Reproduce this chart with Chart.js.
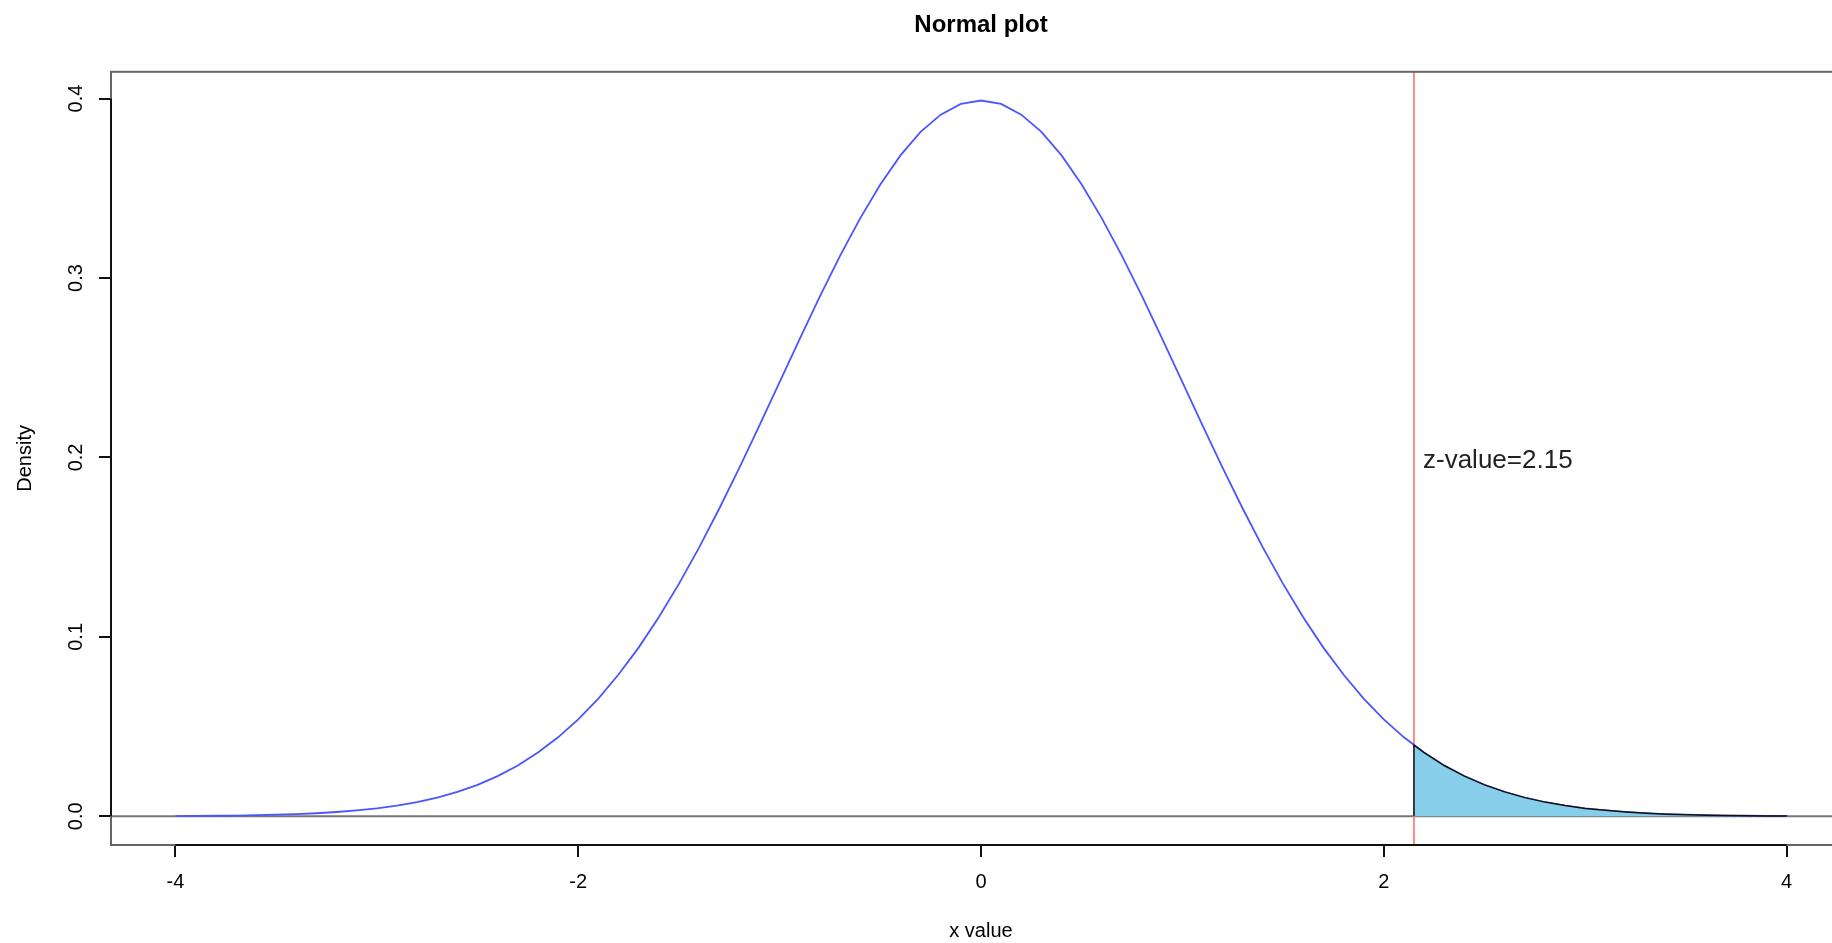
<!DOCTYPE html>
<html>
<head>
<meta charset="utf-8">
<title>Normal plot</title>
<script src="https://cdn.jsdelivr.net/npm/chart.js@4"></script>
<style>
    html, body { margin: 0; padding: 0; overflow: hidden; background: #fff; }
    #grafica { position: absolute; left: 0; top: 0; }
</style>
</head>
<body>
<canvas id="grafica" width="1962" height="943"></canvas>
<script>
    // curva normal
    const xValores = [-4.0, -3.9, -3.8, -3.7, -3.6, -3.5, -3.4, -3.3, -3.2, -3.1,
        -3.0, -2.9, -2.8, -2.7, -2.6, -2.5, -2.4, -2.3, -2.2, -2.1,
        -2.0, -1.9, -1.8, -1.7, -1.6, -1.5, -1.4, -1.3, -1.2, -1.1,
        -1.0, -0.9, -0.8, -0.7, -0.6, -0.5, -0.4, -0.3, -0.2, -0.1,
        0.0, 0.1, 0.2, 0.3, 0.4, 0.5, 0.6, 0.7, 0.8, 0.9,
        1.0, 1.1, 1.2, 1.3, 1.4, 1.5, 1.6, 1.7, 1.8, 1.9,
        2.0, 2.1, 2.2, 2.3, 2.4, 2.5, 2.6, 2.7, 2.8, 2.9,
        3.0, 3.1, 3.2, 3.3, 3.4, 3.5, 3.6, 3.7, 3.8, 3.9, 4.0];
    const densidad = [0.0001, 0.0002, 0.0003, 0.0004, 0.0006, 0.0009, 0.0012, 0.0017, 0.0024, 0.0033,
        0.0044, 0.0060, 0.0079, 0.0104, 0.0136, 0.0175, 0.0224, 0.0283, 0.0355, 0.0440,
        0.0540, 0.0656, 0.0790, 0.0940, 0.1109, 0.1295, 0.1497, 0.1714, 0.1942, 0.2179,
        0.2420, 0.2661, 0.2897, 0.3123, 0.3332, 0.3521, 0.3683, 0.3814, 0.3910, 0.3970,
        0.3989, 0.3970, 0.3910, 0.3814, 0.3683, 0.3521, 0.3332, 0.3123, 0.2897, 0.2661,
        0.2420, 0.2179, 0.1942, 0.1714, 0.1497, 0.1295, 0.1109, 0.0940, 0.0790, 0.0656,
        0.0540, 0.0440, 0.0355, 0.0283, 0.0224, 0.0175, 0.0136, 0.0104, 0.0079, 0.0060,
        0.0044, 0.0033, 0.0024, 0.0017, 0.0012, 0.0009, 0.0006, 0.0004, 0.0003, 0.0002, 0.0001];

    // area sombreada a la derecha de z
    const colaX = [2.15, 2.15, 2.2, 2.3, 2.4, 2.5, 2.6, 2.7, 2.8, 2.9, 3.0,
        3.1, 3.2, 3.3, 3.4, 3.5, 3.6, 3.7, 3.8, 3.9, 4.0, 4.0];
    const colaY = [0, 0.0396, 0.0355, 0.0283, 0.0224, 0.0175, 0.0136, 0.0104, 0.0079, 0.0060, 0.0044,
        0.0033, 0.0024, 0.0017, 0.0012, 0.0009, 0.0006, 0.0004, 0.0003, 0.0002, 0.0001, 0];

    const zValor = 2.15;
    const etiquetaZ = "z-value=2.15";
    const ticksX = [-4, -2, 0, 2, 4];
    const etiquetasX = ["-4", "-2", "0", "2", "4"];
    const ticksY = [0, 0.1, 0.2, 0.3, 0.4];
    const etiquetasY = ["0.0", "0.1", "0.2", "0.3", "0.4"];

    const fuente = "'Liberation Sans', Arial, Helvetica, sans-serif";

    const puntosCurva = xValores.map((x, i) => ({ x: x, y: densidad[i] }));
    const puntosCola = colaX.map((x, i) => ({ x: x, y: colaY[i] }));

    // caja, ejes estilo R, lineas de referencia y texto
    const estiloR = {
        id: "estiloR",
        beforeDatasetsDraw(chart) {
            const ctx = chart.ctx;
            const a = chart.chartArea;
            const sx = chart.scales.x;
            const sy = chart.scales.y;
            ctx.save();
            // linea horizontal en 0
            const y0 = sy.getPixelForValue(0);
            ctx.strokeStyle = "#777";
            ctx.lineWidth = 2;
            ctx.beginPath();
            ctx.moveTo(a.left, y0);
            ctx.lineTo(a.right, y0);
            ctx.stroke();
            // linea vertical del valor z
            const xz = sx.getPixelForValue(zValor);
            ctx.strokeStyle = "#ff8a8a";
            ctx.lineWidth = 2;
            ctx.beginPath();
            ctx.moveTo(xz, a.top);
            ctx.lineTo(xz, a.bottom);
            ctx.stroke();
            ctx.restore();
        },
        afterDatasetsDraw(chart) {
            const ctx = chart.ctx;
            const a = chart.chartArea;
            const sx = chart.scales.x;
            const sy = chart.scales.y;
            ctx.save();
            // caja
            ctx.strokeStyle = "#666";
            ctx.lineWidth = 2;
            ctx.strokeRect(a.left, a.top, a.right - a.left, a.bottom - a.top);
            // lineas de los ejes
            ctx.strokeStyle = "#111";
            ctx.beginPath();
            ctx.moveTo(sx.getPixelForValue(ticksX[0]), a.bottom);
            ctx.lineTo(sx.getPixelForValue(ticksX[ticksX.length - 1]), a.bottom);
            ctx.moveTo(a.left, sy.getPixelForValue(ticksY[0]));
            ctx.lineTo(a.left, sy.getPixelForValue(ticksY[ticksY.length - 1]));
            ctx.stroke();
            // etiquetas del eje y (giradas)
            ctx.fillStyle = "#000";
            ctx.font = "20px " + fuente;
            ctx.textAlign = "center";
            ctx.textBaseline = "middle";
            ticksY.forEach((v, i) => {
                ctx.save();
                ctx.translate(76, sy.getPixelForValue(v));
                ctx.rotate(-Math.PI / 2);
                ctx.fillText(etiquetasY[i], 0, 0);
                ctx.restore();
            });
            // texto del valor z
            ctx.fillStyle = "#222";
            ctx.font = "26px " + fuente;
            ctx.textAlign = "left";
            ctx.fillText(etiquetaZ, sx.getPixelForValue(zValor) + 9, sy.getPixelForValue(0.2) + 3);
            ctx.restore();
        }
    };

    const $grafica = document.querySelector("#grafica");
    new Chart($grafica, {
        type: "line",
        data: {
            datasets: [
                {
                    data: puntosCola,
                    borderColor: "#111",
                    borderWidth: 1.5,
                    backgroundColor: "#87CEEB",
                    fill: "origin",
                    pointRadius: 0,
                    tension: 0
                },
                {
                    data: puntosCurva,
                    borderColor: "#4a56ff",
                    borderWidth: 1.8,
                    fill: false,
                    pointRadius: 0,
                    tension: 0
                }
            ]
        },
        options: {
            responsive: false,
            animation: false,
            events: [],
            devicePixelRatio: 1,
            layout: { padding: { left: 0, right: 111, top: 0, bottom: 0 } },
            plugins: {
                legend: { display: false },
                tooltip: { enabled: false },
                title: {
                    display: true,
                    text: "Normal plot",
                    fullSize: false,
                    color: "#000",
                    font: { family: fuente, size: 24, weight: "bold" },
                    padding: { top: 11, bottom: 32 }
                }
            },
            scales: {
                x: {
                    type: "linear",
                    min: -4.32,
                    max: 4.32,
                    afterBuildTicks: (s) => { s.ticks = ticksX.map(v => ({ value: v })); },
                    afterFit: (s) => { s.height = 98; },
                    grid: { drawOnChartArea: false, drawTicks: true, tickLength: 12, color: "#111", lineWidth: 2 },
                    border: { display: false },
                    ticks: {
                        color: "#000",
                        padding: 13,
                        maxRotation: 0,
                        font: { family: fuente, size: 20 },
                        callback: (v) => etiquetasX[ticksX.indexOf(v)]
                    },
                    title: {
                        display: true,
                        text: "x value",
                        color: "#000",
                        font: { family: fuente, size: 20 },
                        padding: { top: 0, bottom: 0 }
                    }
                },
                y: {
                    type: "linear",
                    min: -0.016,
                    max: 0.4149,
                    afterBuildTicks: (s) => { s.ticks = ticksY.map(v => ({ value: v })); },
                    afterFit: (s) => { s.width = 111; },
                    grid: { drawOnChartArea: false, drawTicks: true, tickLength: 12, color: "#111", lineWidth: 2 },
                    border: { display: false },
                    ticks: { display: false },
                    title: {
                        display: true,
                        text: "Density",
                        color: "#000",
                        font: { family: fuente, size: 20 },
                        padding: { top: 13, bottom: 0 }
                    }
                }
            }
        },
        plugins: [estiloR]
    });
</script>
</body>
</html>
